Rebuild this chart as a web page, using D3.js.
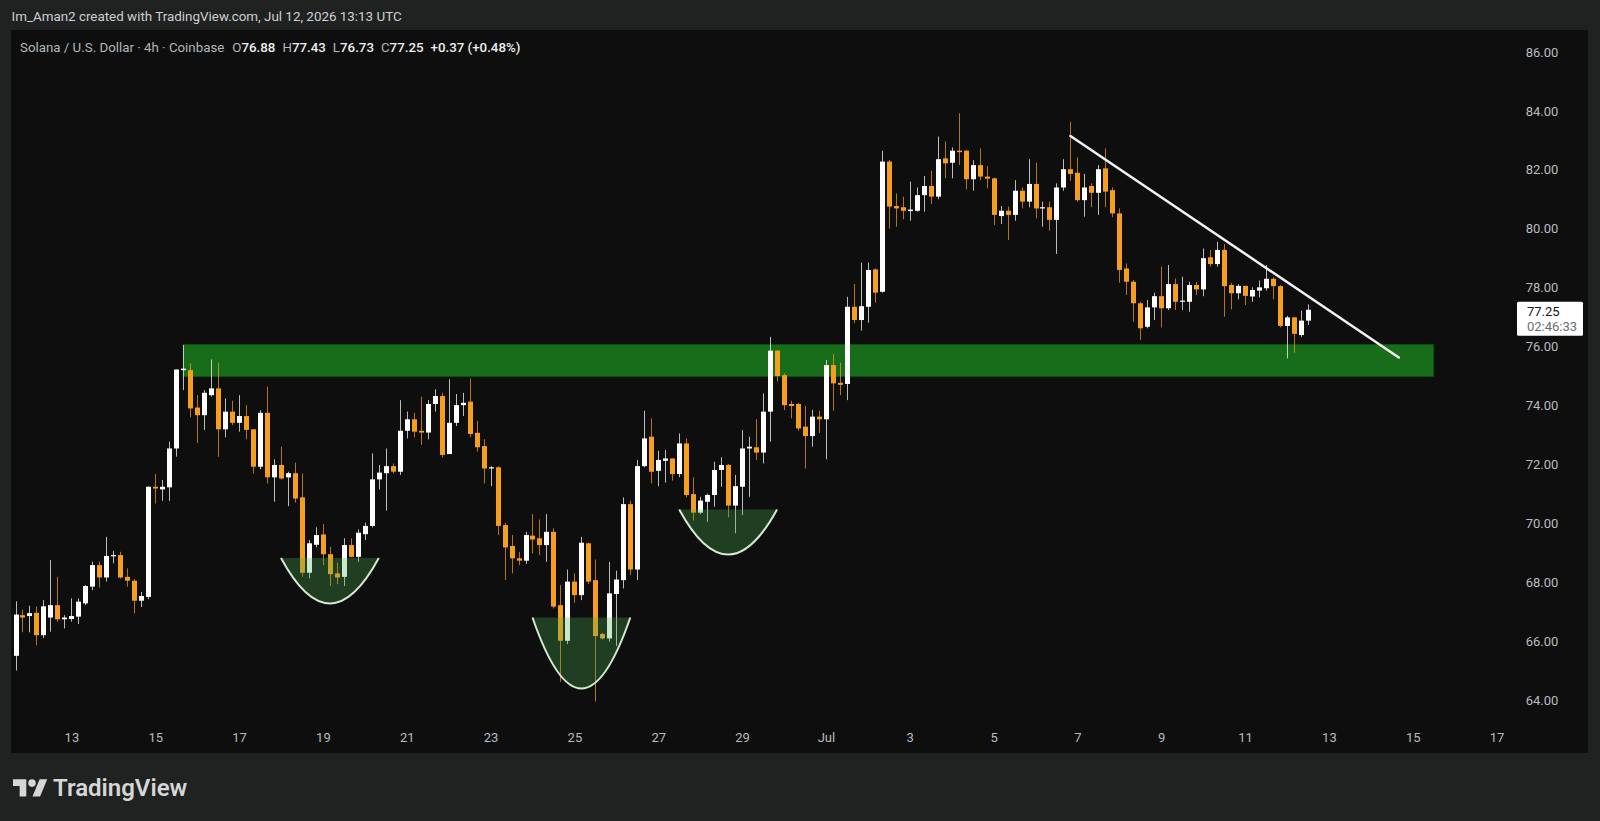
<!DOCTYPE html>
<html><head><meta charset="utf-8">
<script src="https://cdn.jsdelivr.net/npm/d3@7"></script>
<style>html,body{margin:0;padding:0;background:#202121;overflow:hidden;} svg{display:block;}</style>
</head><body>
<svg id="chart" width="1600" height="821"></svg>
<script>
// ---------------- DATA ----------------
const startTime = "2026-06-11T16:00:00Z"; // first 4h bar
const opens = [65.5,66.88,66.85,66.96,66.2,66.8,67.22,66.74,66.75,66.83,67.28,67.85,68.58,68.16,68.88,68.92,68.18,68.05,67.37,67.5,
71.24,71.15,71.22,72.54,75.2,75.2,73.93,73.67,74.35,74.58,73.19,73.79,73.41,73.64,73.19,71.92,73.75,71.56,71.98,71.56,
71.7,70.88,68.32,69.27,69.62,68.95,68.3,68.18,69.26,68.86,69.63,69.91,71.49,71.7,71.94,71.75,73.14,73.53,73.14,73.08,
74.05,74.32,72.35,73.41,74.01,74.13,73.07,72.62,71.86,71.9,69.94,69.23,68.81,68.73,69.58,69.49,69.26,69.71,67.22,66.01,
68.02,67.56,69.32,68.07,66.24,66.09,67.6,68.07,70.65,68.43,71.94,72.94,71.78,72.12,72.2,71.67,72.71,70.99,70.36,70.73,
70.96,71.81,71.98,70.6,71.24,72.54,72.58,72.4,73.79,75.86,75.03,74.05,74.05,73.28,72.96,73.62,73.53,75.37,74.77,74.73,
77.35,76.9,77.35,78.62,77.86,82.28,80.77,80.73,80.6,80.61,81.14,81.45,81.09,82.39,82.24,82.65,82.65,81.68,82.16,81.77,
81.71,80.43,80.61,80.47,81.29,80.92,81.52,80.69,80.73,80.3,81.4,82.02,81.9,80.97,81.45,81.22,82.05,81.31,80.52,78.65,
78.2,77.47,76.67,77.33,77.71,77.3,78.12,77.52,77.52,78.09,77.94,79.03,78.8,79.28,78.09,77.81,78.06,77.7,77.9,77.98,
78.3,78.05,76.7,76.99,76.39,76.88];
const highs = [67.35,67.07,67.2,67.17,67.39,68.75,68.18,66.88,67.45,67.45,67.9,68.7,68.7,69.54,69.06,69.03,68.47,68.1,67.67,71.25,
71.67,71.47,72.77,75.22,76.05,75.43,74.35,74.52,75.56,75.45,74.24,74.16,74.35,74.01,73.19,73.84,74.64,72.17,72.6,71.75,
72.06,71.69,69.43,69.86,69.97,69.2,68.66,69.49,69.49,69.79,70.02,72.37,71.98,72.54,72.03,74.18,73.79,73.75,74.3,74.18,
74.55,74.43,74.89,74.39,74.43,74.92,73.48,72.85,71.94,71.94,70.02,69.6,69.03,69.71,70.31,70.13,70.31,69.83,67.9,68.43,
68.3,69.54,69.34,68.77,66.28,68.69,68.39,70.88,70.77,72.15,73.82,73.56,72.46,72.49,72.2,73.05,72.88,71.56,70.9,71.01,
72.09,72.24,72.01,71.64,73.16,72.94,73.53,74.41,76.33,75.88,75.09,74.16,74.09,73.98,73.85,73.82,75.54,75.75,75.45,77.69,
78.12,78.85,78.85,78.65,82.65,82.33,81.2,81.09,81.6,81.4,81.79,81.97,83.13,82.96,82.76,83.92,82.67,82.33,82.73,82.13,
81.74,80.77,80.75,81.65,81.4,82.36,82.24,80.92,80.92,81.54,82.36,83.63,82.42,81.86,81.54,82.16,82.73,81.4,80.69,78.82,
78.26,77.52,77.58,77.83,78.71,78.77,78.31,78.37,78.2,78.2,79.33,79.28,79.56,79.48,78.17,78.12,78.06,78.01,78.24,78.77,
78.35,78.09,77.04,77.01,77.22,77.43];
const lows = [65.0,66.3,66.3,65.86,66.1,66.32,66.66,66.43,66.66,66.58,67.22,67.73,67.82,68.02,68.64,68.12,67.85,66.94,67.16,67.42,
70.67,70.76,70.76,72.26,74.52,73.6,72.73,73.17,74.3,72.26,72.92,73.33,73.11,72.85,71.69,71.83,71.35,70.73,71.49,70.58,
70.7,68.18,68.13,69.18,68.58,67.87,67.93,67.87,68.84,68.69,69.43,69.86,71.15,70.43,71.69,71.64,72.88,72.92,72.66,72.85,
73.79,72.24,72.35,73.3,73.64,72.92,72.43,71.35,71.26,69.6,68.07,68.3,68.58,68.62,68.98,68.92,68.69,67.11,64.62,65.9,
67.3,67.39,67.94,63.95,66.05,65.98,65.83,67.79,68.24,68.07,71.9,71.35,71.26,71.38,71.45,71.56,70.88,70.09,70.31,70.05,
70.56,71.24,70.2,69.66,70.28,70.9,72.15,72.03,72.77,74.81,73.84,73.56,73.14,71.86,72.6,73.07,72.17,73.82,74.35,74.18,
76.79,76.54,76.81,77.49,77.83,80.01,80.07,80.32,80.27,80.58,80.58,80.84,81.0,81.71,81.71,82.16,81.34,81.29,81.65,81.37,
80.13,80.16,79.62,80.27,80.69,80.73,80.35,80.07,79.93,79.14,81.29,81.63,80.92,80.41,80.73,80.47,80.73,80.39,78.17,77.75,
76.84,76.22,76.62,76.9,76.65,77.24,77.24,77.24,77.18,77.75,77.71,78.71,78.71,77.01,77.26,77.6,77.41,77.52,77.67,77.9,
77.6,76.65,75.6,75.79,76.33,76.73];
const closes = [66.9,66.8,66.95,66.2,67.18,67.22,66.74,66.8,66.85,67.34,67.87,68.58,68.16,68.89,68.92,68.16,68.05,67.37,67.53,71.24,
71.18,71.24,72.54,75.22,75.25,73.9,73.67,74.43,74.58,73.19,73.79,73.41,73.64,73.17,71.92,73.75,71.56,71.98,71.52,71.7,
70.84,68.32,69.32,69.6,68.95,68.27,68.16,69.26,68.86,69.68,69.91,71.49,71.72,71.94,71.75,73.14,73.53,73.11,73.08,74.05,
74.32,72.32,73.41,74.01,74.09,73.03,72.58,71.86,71.9,69.91,69.18,68.81,68.73,69.6,69.45,69.26,69.71,67.17,66.01,68.02,
67.56,69.34,68.02,66.17,66.09,67.62,68.09,70.65,68.43,71.94,72.88,71.75,72.15,72.2,71.67,72.71,70.96,70.36,70.77,70.96,
71.81,71.98,70.6,71.26,72.54,72.6,72.4,73.79,75.86,75.0,74.01,73.98,73.22,72.96,73.62,73.53,75.37,74.75,74.7,77.35,
76.9,77.37,78.6,77.83,82.28,80.75,80.69,80.61,80.65,81.14,81.45,81.09,82.36,82.22,82.65,82.6,81.68,82.16,81.77,81.7,
80.47,80.61,80.47,81.29,80.92,81.52,80.69,80.73,80.3,81.4,82.02,81.86,80.97,81.4,81.22,82.02,81.26,80.52,78.6,78.2,
77.47,76.62,77.33,77.71,77.3,78.12,77.52,77.56,78.09,77.94,79.0,78.8,79.28,78.05,77.81,78.06,77.72,77.92,78.01,78.3,
78.05,76.7,76.99,76.43,76.88,77.25];

const yTicks = [64,66,68,70,72,74,76,78,80,82,84,86];
const xTickDates = ["2026-06-13","2026-06-15","2026-06-17","2026-06-19","2026-06-21","2026-06-23","2026-06-25","2026-06-27","2026-06-29",
  "2026-07-01","2026-07-03","2026-07-05","2026-07-07","2026-07-09","2026-07-11","2026-07-13","2026-07-15","2026-07-17"];
const xTickLabels = ["13","15","17","19","21","23","25","27","29","Jul","3","5","7","9","11","13","15","17"];

const zone = {from:"2026-06-15T16:00:00Z", to:"2026-07-15T12:00:00Z", low:74.98, high:76.07};
const trend = {from:"2026-07-06T20:00:00Z", p0:83.15, to:"2026-07-14T16:00:00Z", p1:75.63};
const bowls = [
  {from:"2026-06-18T00:00:00Z", to:"2026-06-20T08:00:00Z", top:68.82, bottom:67.28},
  {from:"2026-06-24T00:00:00Z", to:"2026-06-26T08:00:00Z", top:66.80, bottom:64.39},
  {from:"2026-06-27T12:00:00Z", to:"2026-06-29T20:00:00Z", top:70.47, bottom:68.94}
];
const titleText = "Im_Aman2 created with TradingView.com, Jul 12, 2026 13:13 UTC";
const symbolText = "Solana / U.S. Dollar · 4h · Coinbase";
const ohlcLabels = ["O","H","L","C"];
const ohlcValues = ["76.88","77.43","76.73","77.25"];
const changeText = "+0.37 (+0.48%)";
const countdown = "02:46:33";

// ---------------- CHART ----------------
const W = 1600, H = 821;
const svg = d3.select("#chart");
const FONT = "Roboto, 'Liberation Sans', Arial, sans-serif";
const up = "#ffffff", down = "#f59e1f";

const t0 = new Date(startTime);
const times = d3.utcHour.every(4).range(t0, d3.utcHour.offset(t0, 4 * opens.length));
const data = times.map((t, i) => ({t, o: opens[i], h: highs[i], l: lows[i], c: closes[i]}));

const x = d3.scaleUtc()
  .domain([new Date("2026-06-13T00:00:00Z"), new Date("2026-07-17T00:00:00Z")])
  .range([71.4, 1496.6]);
const y = d3.scaleLinear().domain([64, 86]).range([700, 52]);

// background + panel
svg.append("rect").attr("width", W).attr("height", H).attr("fill", "#202121");
svg.append("rect").attr("x", 11).attr("y", 30).attr("width", 1577).attr("height", 723).attr("fill", "#0e0e0e");

svg.append("defs").append("clipPath").attr("id", "plotclip")
  .append("rect").attr("x", 11).attr("y", 30).attr("width", 1500).attr("height", 690);

// header
svg.append("text").attr("x", 11.5).attr("y", 20.5)
  .attr("font-family", FONT).attr("font-size", 13.4).attr("fill", "#cfd0d2").text(titleText);
const hdr = svg.append("text").attr("x", 20).attr("y", 51.5)
  .attr("font-family", FONT).attr("font-size", 13.3).attr("fill", "#b4b6ba");
hdr.append("tspan").text(symbolText);
ohlcLabels.forEach((lab, i) => {
  hdr.append("tspan").attr("dx", i === 0 ? 8 : 7).text(lab);
  hdr.append("tspan").attr("fill", "#eeeeee").attr("font-weight", 500).text(ohlcValues[i]);
});
hdr.append("tspan").attr("dx", 7).attr("fill", "#eeeeee").attr("font-weight", 500).text(changeText);

const plot = svg.append("g").attr("clip-path", "url(#plotclip)");

// support zone
plot.append("rect")
  .attr("x", x(new Date(zone.from))).attr("width", x(new Date(zone.to)) - x(new Date(zone.from)))
  .attr("y", y(zone.high)).attr("height", y(zone.low) - y(zone.high))
  .attr("fill", "#176d1a").attr("stroke", "#0d4f10").attr("stroke-width", 1);

// candles
const cg = plot.append("g");
cg.selectAll("line.wick").data(data).join("line").attr("class", "wick")
  .attr("x1", d => Math.round(x(d.t)) + 0.5).attr("x2", d => Math.round(x(d.t)) + 0.5)
  .attr("y1", d => y(d.h)).attr("y2", d => y(d.l))
  .attr("stroke", d => d.c >= d.o ? up : down).attr("stroke-opacity", 0.72).attr("stroke-width", 1);
cg.selectAll("rect.body").data(data).join("rect").attr("class", "body")
  .attr("x", d => Math.round(x(d.t)) - 2).attr("width", 5)
  .attr("y", d => y(Math.max(d.o, d.c)))
  .attr("height", d => Math.max(1.2, Math.abs(y(d.o) - y(d.c))))
  .attr("fill", d => d.c >= d.o ? up : down);

// bowls
bowls.forEach(b => {
  const x0 = x(new Date(b.from)), x1 = x(new Date(b.to)), yt = y(b.top), yb = y(b.bottom);
  const xm = (x0 + x1) / 2, cy = 2 * yb - yt;
  plot.append("path").attr("d", `M${x0},${yt} Q${xm},${cy} ${x1},${yt} Z`)
    .attr("fill", "rgba(76,175,80,0.30)");
  plot.append("path").attr("d", `M${x0},${yt} Q${xm},${cy} ${x1},${yt}`)
    .attr("fill", "none").attr("stroke", "#d3ead0").attr("stroke-width", 2);
});

// trend line
plot.append("line")
  .attr("x1", x(new Date(trend.from))).attr("y1", y(trend.p0))
  .attr("x2", x(new Date(trend.to))).attr("y2", y(trend.p1))
  .attr("stroke", "#f2f2f2").attr("stroke-width", 2.5).attr("stroke-linecap", "round");

// y axis (price scale)
const yAxis = d3.axisRight(y).tickValues(yTicks).tickFormat(d => d.toFixed(2)).tickSize(0).tickPadding(0);
const ya = svg.append("g").attr("transform", "translate(1542,0)").call(yAxis);
ya.select(".domain").remove();
ya.selectAll("text").attr("text-anchor", "middle").attr("font-family", FONT)
  .attr("font-size", 13).attr("fill", "#b9bbbe");

// x axis
const xAxis = d3.axisBottom(x).tickValues(xTickDates.map(s => new Date(s + "T00:00:00Z")))
  .tickFormat((d, i) => xTickLabels[i]).tickSize(0).tickPadding(0);
const xa = svg.append("g").attr("transform", "translate(0,733)").call(xAxis);
xa.select(".domain").remove();
xa.selectAll("text").attr("font-family", FONT).attr("font-size", 13).attr("fill", "#b9bbbe");

// last price label
const last = data[data.length - 1];
const ly = y(last.c);
svg.append("rect").attr("x", 1517).attr("y", ly - 8).attr("width", 66).attr("height", 34)
  .attr("rx", 1.5).attr("fill", "#ffffff");
svg.append("text").attr("x", 1527).attr("y", ly + 6.5).attr("font-family", FONT)
  .attr("font-size", 13).attr("fill", "#131722").text(last.c.toFixed(2));
svg.append("text").attr("x", 1527).attr("y", ly + 21.5).attr("font-family", FONT)
  .attr("font-size", 13).attr("fill", "#6b6e75").text(countdown);

// TradingView logo
const logo = svg.append("g").attr("transform", "translate(13,775.5) scale(0.95)").attr("fill", "#d6d6d6");
logo.append("path").attr("d", "M14 22H7V11H0V4h14v18z");
logo.append("circle").attr("cx", 20).attr("cy", 8).attr("r", 4);
logo.append("path").attr("d", "M20.5 22h8l7.5-18h-8z");
svg.append("text").attr("x", 53).attr("y", 796).attr("font-family", FONT)
  .attr("font-size", 24).attr("font-weight", 600).attr("fill", "#d6d6d6").text("TradingView");
</script>
</body></html>
